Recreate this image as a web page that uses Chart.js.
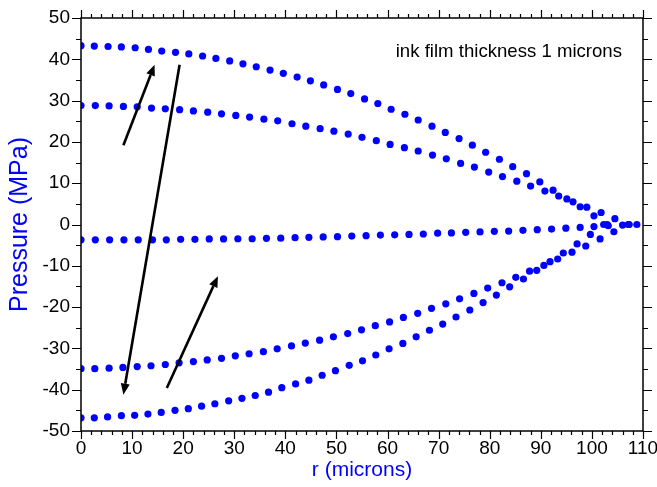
<!DOCTYPE html>
<html>
<head>
<meta charset="utf-8">
<script src="https://cdn.jsdelivr.net/npm/chart.js@4.4.1/dist/chart.umd.min.js"></script>
<style>
  html, body { margin: 0; padding: 0; background: #fff; }
</style>
</head>
<body>
<canvas id="chart" width="657" height="487"></canvas>
<script>
// radius (microns) and pressure (MPa), one pair per time step
let rA = [0, 2.6, 5.3, 7.9, 10.6, 13.2, 15.8, 18.5, 21.1, 23.8, 26.4, 29.1, 31.7, 34.3, 37.0, 39.6, 42.3, 44.9, 47.5, 50.2, 52.8, 55.5, 58.1, 60.7, 63.4, 66.0, 68.7, 71.3, 74.0, 76.6, 79.2, 81.9, 84.5, 87.2, 89.8, 92.4, 95.1, 97.7, 100.4, 103.0];
let pA = [43.3, 43.2, 43.1, 43.0, 42.8, 42.4, 42.0, 41.7, 41.3, 40.8, 40.2, 39.6, 38.9, 38.2, 37.4, 36.6, 35.7, 34.8, 33.8, 32.7, 31.7, 30.4, 29.3, 27.9, 26.7, 25.3, 23.8, 22.3, 20.8, 19.2, 17.5, 15.8, 14.0, 12.3, 10.3, 8.3, 6.2, 4.3, 2.1, 0.0];

let rB = [0, 2.8, 5.5, 8.3, 11.0, 13.8, 16.5, 19.3, 22.0, 24.8, 27.5, 30.3, 33.0, 35.8, 38.5, 41.3, 44.0, 46.8, 49.5, 52.3, 55.0, 57.8, 60.5, 63.3, 66.0, 68.8, 71.5, 74.3, 77.0, 79.8, 82.5, 85.3, 88.0, 90.8, 93.5, 96.3, 99.0, 101.8, 104.5, 107.3];
let pB = [28.8, 28.8, 28.7, 28.6, 28.5, 28.2, 28.0, 27.8, 27.5, 27.2, 26.8, 26.4, 26.0, 25.5, 25.1, 24.4, 23.8, 23.2, 22.6, 21.9, 21.1, 20.3, 19.4, 18.6, 17.8, 16.8, 15.9, 14.8, 13.9, 12.7, 11.6, 10.5, 9.3, 8.1, 6.9, 5.5, 4.2, 2.9, 1.4, 0.0];

let rC = [0, 2.8, 5.6, 8.4, 11.2, 14.0, 16.7, 19.5, 22.3, 25.1, 27.9, 30.7, 33.5, 36.3, 39.1, 41.9, 44.6, 47.4, 50.2, 53.0, 55.8, 58.6, 61.4, 64.2, 67.0, 69.8, 72.5, 75.3, 78.1, 80.9, 83.7, 86.5, 89.3, 92.1, 94.9, 97.7, 100.4, 103.2, 106.0, 108.8];
let pC = [-3.7, -3.7, -3.7, -3.7, -3.7, -3.7, -3.7, -3.6, -3.6, -3.5, -3.5, -3.45, -3.45, -3.35, -3.3, -3.2, -3.1, -3.0, -2.95, -2.8, -2.7, -2.55, -2.5, -2.4, -2.3, -2.1, -2.05, -1.9, -1.8, -1.65, -1.6, -1.4, -1.25, -1.1, -0.9, -0.7, -0.5, -0.3, -0.15, 0.0];

let rD = [0, 2.7, 5.5, 8.2, 11.0, 13.7, 16.5, 19.2, 22.0, 24.7, 27.5, 30.2, 32.9, 35.7, 38.4, 41.2, 43.9, 46.7, 49.4, 52.2, 54.9, 57.6, 60.4, 63.1, 65.9, 68.6, 71.4, 74.1, 76.9, 79.6, 82.4, 85.1, 87.8, 90.6, 93.3, 96.1, 98.8, 101.6, 104.3, 107.1];
let pD = [-34.9, -34.9, -34.8, -34.6, -34.4, -34.2, -33.9, -33.5, -33.2, -32.8, -32.4, -31.8, -31.3, -30.8, -30.1, -29.4, -28.7, -28.0, -27.2, -26.4, -25.5, -24.5, -23.6, -22.5, -21.5, -20.3, -19.2, -18.0, -16.7, -15.4, -14.1, -12.8, -11.3, -9.9, -8.35, -6.7, -5.2, -3.5, -1.75, 0.0];

let rE = [0, 2.6, 5.2, 7.9, 10.5, 13.1, 15.7, 18.4, 21.0, 23.6, 26.2, 28.9, 31.5, 34.1, 36.7, 39.3, 42.0, 44.6, 47.2, 49.8, 52.5, 55.1, 57.7, 60.3, 63.0, 65.6, 68.2, 70.8, 73.4, 76.1, 78.7, 81.3, 83.9, 86.6, 89.2, 91.8, 94.4, 97.1, 99.7, 102.3];
let pE = [-46.8, -46.8, -46.6, -46.3, -46.2, -45.9, -45.5, -45.0, -44.6, -44.0, -43.4, -42.7, -42.1, -41.4, -40.6, -39.5, -38.6, -37.7, -36.5, -35.4, -34.1, -33.0, -31.6, -30.1, -28.8, -27.2, -25.6, -24.1, -22.4, -20.7, -18.9, -17.1, -15.1, -13.2, -11.1, -9.0, -6.9, -4.7, -2.4, 0.0];

// arrows in data units: [fromR, fromP, toR, toP]
let arrows = [[8.3, 19.2, 14.4, 38.7], [19.3, 38.7, 8.3, -41.2], [16.8, -39.6, 26.8, -12.5]];
let noteText = "ink film thickness 1 microns";
let notePos = [61.6, 40.5];

let font = "'Liberation Sans', Arial, sans-serif";
let blue = '#0000ff';

let series = [[rA, pA], [rB, pB], [rC, pC], [rD, pD], [rE, pE]];
let datasets = series.map(s => ({
  data: s[0].map((r, i) => ({ x: r, y: s[1][i] })),
  backgroundColor: blue,
  borderColor: blue,
  borderWidth: 0,
  pointRadius: 3.6,
  pointHoverRadius: 3.6
}));

//frame, minor ticks, arrows, note
const decorations = {
  id: 'decorations',
  afterDraw(chart) {
    const { ctx, chartArea: a, scales: { x, y } } = chart;
    ctx.save();
    ctx.strokeStyle = '#000';
    ctx.lineWidth = 1.5;
    ctx.strokeRect(a.left, a.top, a.right - a.left, a.bottom - a.top);

    ctx.lineWidth = 1.2;
    ctx.beginPath();
    for (let v = -50; v <= 50; v += 5) {
      let py = Math.round(y.getPixelForValue(v)) + 0.5;
      let len = v % 10 === 0 ? 9 : 5;
      ctx.moveTo(a.left, py); ctx.lineTo(a.left - len, py);
      ctx.moveTo(a.right, py); ctx.lineTo(a.right + len, py);
    }
    for (let v = 0; v <= 110; v += 2) {
      let px = Math.round(x.getPixelForValue(v)) + 0.5;
      let len = v % 10 === 0 ? 8 : 4;
      ctx.moveTo(px, a.bottom); ctx.lineTo(px, a.bottom + len);
      ctx.moveTo(px, a.top); ctx.lineTo(px, a.top - len);
    }
    ctx.stroke();

    // arrows
    ctx.fillStyle = '#000';
    ctx.lineWidth = 2.6;
    arrows.forEach(ar => {
      let x0 = x.getPixelForValue(ar[0]), y0 = y.getPixelForValue(ar[1]);
      let x1 = x.getPixelForValue(ar[2]), y1 = y.getPixelForValue(ar[3]);
      let ang = Math.atan2(y1 - y0, x1 - x0);
      let head = 11, half = 4.5;
      let bx = x1 - head * Math.cos(ang), by = y1 - head * Math.sin(ang);
      ctx.beginPath();
      ctx.moveTo(x0, y0);
      ctx.lineTo(bx, by);
      ctx.stroke();
      ctx.beginPath();
      ctx.moveTo(x1, y1);
      ctx.lineTo(bx + half * Math.sin(ang), by - half * Math.cos(ang));
      ctx.lineTo(bx - half * Math.sin(ang), by + half * Math.cos(ang));
      ctx.closePath();
      ctx.fill();
    });

    ctx.font = '18.6px ' + font;
    ctx.textAlign = 'left';
    ctx.textBaseline = 'alphabetic';
    ctx.fillText(noteText, x.getPixelForValue(notePos[0]), y.getPixelForValue(notePos[1]));
    ctx.restore();
  }
};

let ctx = document.getElementById('chart').getContext('2d');
let chart = new Chart(ctx, {
  type: 'scatter',
  data: { datasets: datasets },
  options: {
    responsive: false,
    animation: false,
    devicePixelRatio: 1,
    layout: { padding: { top: 18, right: 14, left: 0, bottom: 0 } },
    plugins: { legend: { display: false }, tooltip: { enabled: false } },
    scales: {
      x: {
        type: 'linear',
        min: 0,
        max: 110,
        grid: { display: false, drawTicks: false },
        border: { display: false },
        ticks: { stepSize: 10, color: '#000', font: { size: 19, family: font }, padding: 6, maxRotation: 0, autoSkip: false },
        title: { display: true, text: 'r (microns)', color: blue, font: { size: 21, family: font }, padding: { top: 0, bottom: 4 } },
        afterFit(s) { s.height = 56; s.paddingLeft = 0; s.paddingRight = 0; }
      },
      y: {
        type: 'linear',
        min: -50,
        max: 50,
        grid: { display: false, drawTicks: false },
        border: { display: false },
        ticks: { stepSize: 10, color: '#000', font: { size: 19, family: font }, padding: 11 },
        title: { display: true, text: 'Pressure (MPa)', color: blue, font: { size: 25, family: font }, padding: { top: 5, bottom: 0 } },
        afterFit(s) { s.width = 81; s.paddingTop = 0; s.paddingBottom = 0; }
      }
    }
  },
  plugins: [decorations]
});
</script>
</body>
</html>
